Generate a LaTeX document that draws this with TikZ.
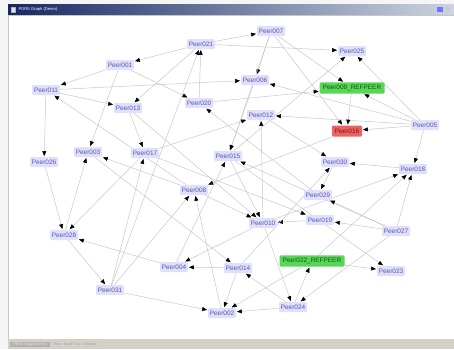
\documentclass[tikz,border=0pt]{standalone}
\usepackage{fontspec}
\setmainfont{Liberation Sans}
\usetikzlibrary{arrows.meta,backgrounds}
\definecolor{peerfill}{RGB}{224,224,250}
\definecolor{peertext}{RGB}{86,86,178}
\definecolor{reffill}{RGB}{88,214,88}
\definecolor{reftext}{RGB}{20,80,20}
\definecolor{hotfill}{RGB}{236,98,98}
\definecolor{hottext}{RGB}{120,20,20}
\definecolor{titlenavy}{RGB}{22,40,100}
\definecolor{titlelight}{RGB}{205,212,224}
\definecolor{statusgray}{RGB}{212,208,200}
\definecolor{edgegray}{RGB}{198,198,198}

\begin{document}
\begin{tikzpicture}[
  font=\fontsize{5.5}{6}\selectfont,
  peer/.style={fill=peerfill, text=peertext, rounded corners=1pt, minimum width=0.84cm, minimum height=0.3cm, inner sep=1pt},
  refpeer/.style={peer, fill=reffill, text=reftext, minimum width=1.95cm, minimum height=0.34cm},
  hotpeer/.style={peer, fill=hotfill, text=hottext, minimum width=0.9cm, minimum height=0.33cm},
  link/.style={-{Triangle[length=4.2pt,width=3.4pt,color=black]}, draw=edgegray, line width=0.4pt, shorten >=0.6pt},
  statustext/.style={font=\fontsize{3}{3}\selectfont, inner sep=0.5pt}
]
\useasboundingbox (0,0) rectangle (13.62,-10.47);

% window
\begin{scope}[on background layer]
\fill[gray!8] (0,0) rectangle (13.62,-10.47);
\shade[left color=titlenavy, right color=titlelight] (0.24,-0.12) rectangle (13.62,-0.46);
\fill[white, draw=gray!45, line width=0.3pt] (0.24,-0.46) rectangle (13.62,-10.17);
\fill[statusgray] (0.24,-10.17) rectangle (13.62,-10.47);
\end{scope}
\node[font=\fontsize{3.5}{4}\selectfont, text=white, anchor=west, inner sep=0pt] (title) at (0.55,-0.29) {PDRS Graph (Demo)};
\node[fill=gray!20, draw=gray!60, line width=0.2pt, minimum size=0.14cm, inner sep=0pt] (titleicon) at (0.39,-0.29) {};
\node[fill=blue!55, minimum size=0.16cm, inner sep=0pt] (winmax) at (13.2,-0.29) {};
\node[font=\fontsize{4}{4}\selectfont, text=gray!70, inner sep=0pt] (winmin) at (12.93,-0.3) {-};
\node[font=\fontsize{4}{4}\selectfont, text=gray!70, inner sep=0pt] (winclose) at (13.45,-0.29) {\texttimes};
\node[statustext, fill=gray!60, text=gray!15, anchor=west, minimum width=1.2cm] (statusname) at (0.3,-10.33) {PDRS Graph (Demo)};
\node[statustext, text=gray!75, anchor=west] (statusinfo) at (1.6,-10.33) {Role: Scroll Tree: Softmem};

% peers
\node[peer] (peer007) at (8.13,-0.93) {Peer007};
\node[peer] (peer021) at (6.03,-1.32) {Peer021};
\node[peer] (peer001) at (3.60,-1.95) {Peer001};
\node[peer] (peer011) at (1.38,-2.70) {Peer011};
\node[peer] (peer013) at (3.84,-3.24) {Peer013};
\node[peer] (peer020) at (5.97,-3.09) {Peer020};
\node[peer] (peer025) at (10.56,-1.53) {Peer025};
\node[peer] (peer006) at (7.65,-2.40) {Peer006};
\node[refpeer] (peer009) at (10.56,-2.64) {Peer009\_REFPEER};
\node[peer] (peer012) at (7.83,-3.45) {Peer012};
\node[hotpeer] (peer016) at (10.41,-3.93) {Peer016};
\node[peer] (peer005) at (12.75,-3.75) {Peer005};
\node[peer] (peer015) at (6.84,-4.68) {Peer015};
\node[peer] (peer030) at (10.05,-4.86) {Peer030};
\node[peer] (peer018) at (12.39,-5.07) {Peer018};
\node[peer] (peer029) at (9.54,-5.85) {Peer029};
\node[peer] (peer019) at (9.60,-6.60) {Peer019};
\node[peer] (peer010) at (7.89,-6.69) {Peer010};
\node[peer] (peer027) at (11.88,-6.93) {Peer027};
\node[peer] (peer003) at (2.64,-4.56) {Peer003};
\node[peer] (peer017) at (4.35,-4.59) {Peer017};
\node[peer] (peer026) at (1.32,-4.86) {Peer026};
\node[peer] (peer008) at (5.82,-5.70) {Peer008};
\node[peer] (peer028) at (1.92,-7.05) {Peer028};
\node[peer] (peer004) at (5.22,-8.01) {Peer004};
\node[peer] (peer014) at (7.14,-8.04) {Peer014};
\node[refpeer] (peer022) at (9.36,-7.83) {Peer022\_REFPEER};
\node[peer] (peer023) at (11.73,-8.13) {Peer023};
\node[peer] (peer031) at (3.30,-8.70) {Peer031};
\node[peer] (peer002) at (6.66,-9.39) {Peer002};
\node[peer] (peer024) at (8.79,-9.21) {Peer024};

% links
\begin{scope}[on background layer]
\draw[link] (peer021) -- (peer001);
\draw[link] (peer021) -- (peer007);
\draw[link] (peer021) -- (peer025);
\draw[link] (peer021) -- (peer013);
\draw[link] (peer020) -- (peer021);
\draw[link] (peer031) -- (peer021);
\draw[link] (peer001) -- (peer011);
\draw[link] (peer001) -- (peer020);
\draw[link] (peer001) -- (peer003);
\draw[link] (peer011) -- (peer013);
\draw[link] (peer011) -- (peer026);
\draw[link] (peer011) -- (peer006);
\draw[link] (peer008) -- (peer011);
\draw[link] (peer013) -- (peer017);
\draw[link] (peer013) -- (peer010);
\draw[link] (peer007) -- (peer006);
\draw[link] (peer007) -- (peer009);
\draw[link] (peer007) -- (peer016);
\draw[link] (peer007) -- (peer015);
\draw[link] (peer005) -- (peer016);
\draw[link] (peer005) -- (peer018);
\draw[link] (peer005) -- (peer025);
\draw[link] (peer005) -- (peer009);
\draw[link] (peer005) -- (peer012);
\draw[link] (peer005) -- (peer006);
\draw[link] (peer009) -- (peer016);
\draw[link] (peer020) -- (peer009);
\draw[link] (peer015) -- (peer025);
\draw[link] (peer012) -- (peer030);
\draw[link] (peer017) -- (peer012);
\draw[link] (peer010) -- (peer012);
\draw[link] (peer016) -- (peer008);
\draw[link] (peer006) -- (peer015);
\draw[link] (peer027) -- (peer015);
\draw[link] (peer004) -- (peer015);
\draw[link] (peer015) -- (peer023);
\draw[link] (peer015) -- (peer010);
\draw[link] (peer008) -- (peer003);
\draw[link] (peer008) -- (peer010);
\draw[link] (peer002) -- (peer008);
\draw[link] (peer028) -- (peer003);
\draw[link] (peer003) -- (peer014);
\draw[link] (peer026) -- (peer028);
\draw[link] (peer017) -- (peer028);
\draw[link] (peer031) -- (peer017);
\draw[link] (peer028) -- (peer031);
\draw[link] (peer004) -- (peer028);
\draw[link] (peer031) -- (peer002);
\draw[link] (peer031) -- (peer008);
\draw[link] (peer014) -- (peer004);
\draw[link] (peer010) -- (peer004);
\draw[link] (peer014) -- (peer002);
\draw[link] (peer022) -- (peer002);
\draw[link] (peer024) -- (peer002);
\draw[link] (peer024) -- (peer014);
\draw[link] (peer019) -- (peer010);
\draw[link] (peer010) -- (peer024);
\draw[link] (peer027) -- (peer024);
\draw[link] (peer024) -- (peer022);
\draw[link] (peer022) -- (peer023);
\draw[link] (peer022) -- (peer018);
\draw[link] (peer010) -- (peer018);
\draw[link] (peer027) -- (peer018);
\draw[link] (peer018) -- (peer030);
\draw[link] (peer014) -- (peer030);
\draw[link] (peer030) -- (peer029);
\draw[link] (peer027) -- (peer029);
\draw[link] (peer017) -- (peer019);
\draw[link] (peer027) -- (peer019);
\draw[link] (peer029) -- (peer020);
\end{scope}
\end{tikzpicture}
\end{document}
